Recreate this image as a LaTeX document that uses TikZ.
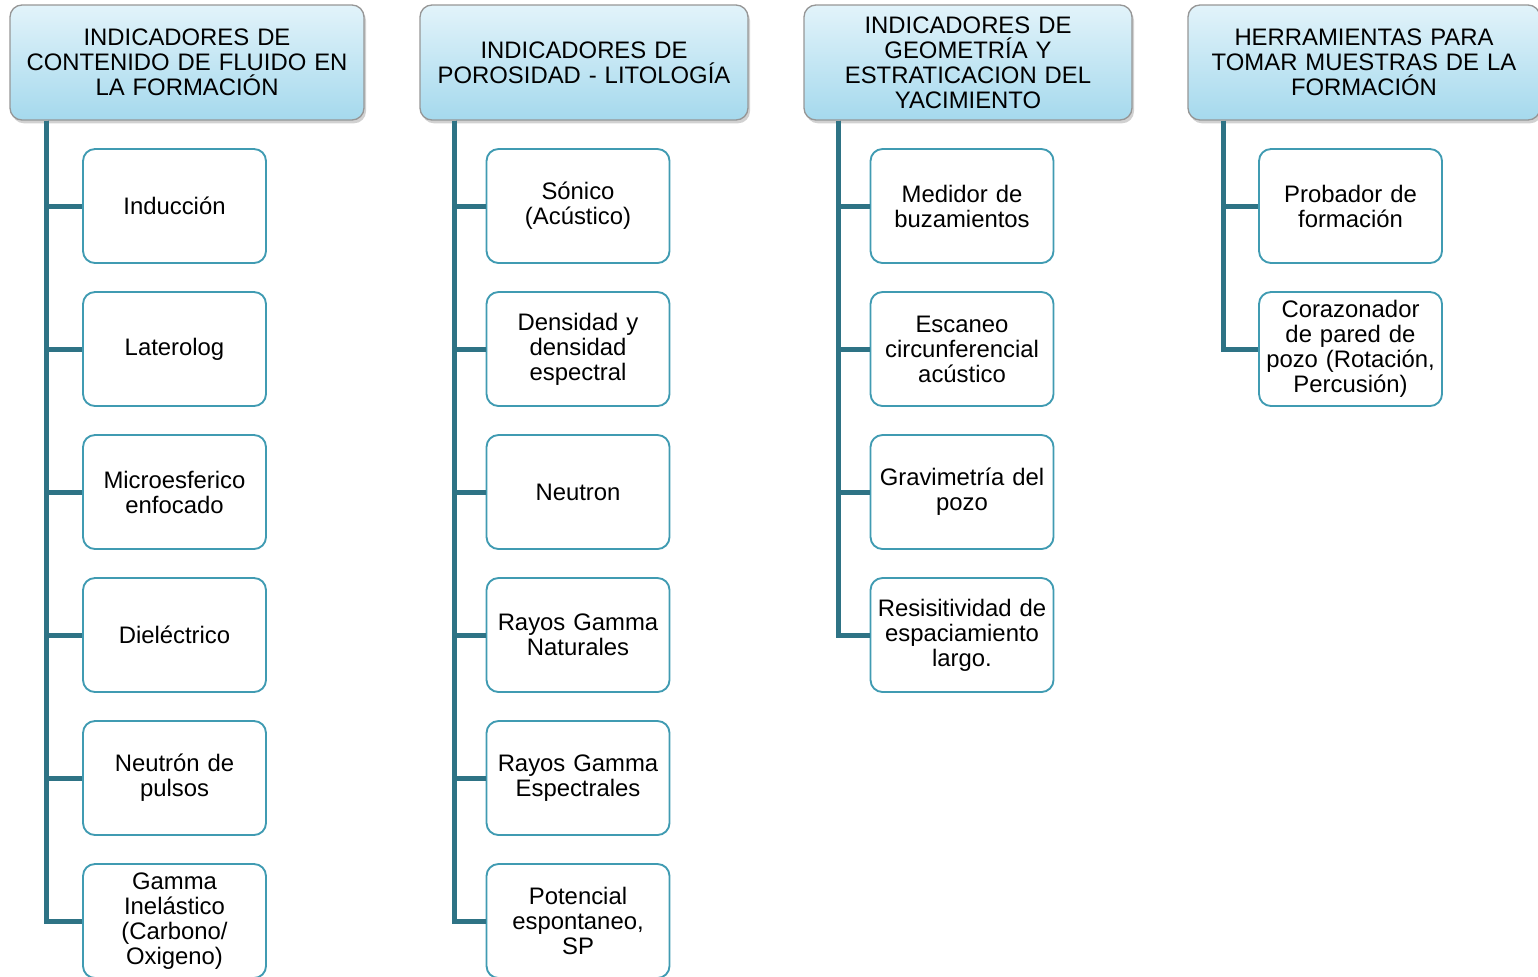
\documentclass[tikz,border=0pt]{standalone}
\usepackage{fontspec}
\setmainfont{Liberation Sans}
\usetikzlibrary{shadows}
\definecolor{hdrtop}{RGB}{226,243,250}
\definecolor{hdrbot}{RGB}{165,217,237}
\definecolor{hdrline}{RGB}{150,150,150}
\definecolor{boxline}{RGB}{64,155,178}
\definecolor{barline}{RGB}{46,115,133}
\tikzset{
  hdr/.style={draw=hdrline, line width=1pt, rounded corners=9pt,
    top color=hdrtop, bottom color=hdrbot, inner xsep=0pt,
    minimum height=86.25pt, align=center,
    drop shadow={shadow xshift=1.5pt, shadow yshift=-2.5pt, opacity=0.3, fill=black!60}},
  leaf/.style={draw=boxline, line width=1.4pt, fill=white, rounded corners=9pt,
    inner xsep=0pt, text width=137.25pt, minimum height=85.5pt, align=center},
  link/.style={draw=barline, line width=3.75pt}
}
\begin{document}
\begin{tikzpicture}[x=0.75pt, y=-0.75pt, font=\fontsize{17.9pt}{18.75pt}\selectfont]
\useasboundingbox (0,0) rectangle (1538,976);

% headers
\node[hdr, text width=265.5pt] (h1) at (187,62.5) {INDICADORES DE\\CONTENIDO DE FLUIDO EN\\LA FORMACIÓN};
\node[hdr, text width=246pt] (h2) at (584,62.5) {INDICADORES DE\\POROSIDAD - LITOLOGÍA};
\node[hdr, text width=246pt] (h3) at (968,62.5) {INDICADORES DE\\GEOMETRÍA Y\\ESTRATICACION DEL\\YACIMIENTO};
\node[hdr, text width=264pt] (h4) at (1364,62.5) {HERRAMIENTAS PARA\\TOMAR MUESTRAS DE LA\\FORMACIÓN};

\coordinate (b1) at ([xshift=27.75pt]h1.south west);
\coordinate (b2) at ([xshift=26.25pt]h2.south west);
\coordinate (b3) at ([xshift=26.25pt]h3.south west);
\coordinate (b4) at ([xshift=27pt]h4.south west);

% fluid content
\node[leaf] (c11) at (174.5,206) {Inducción};
\node[leaf] (c12) at (174.5,349) {Laterolog};
\node[leaf] (c13) at (174.5,492) {Microesferico\\enfocado};
\node[leaf] (c14) at (174.5,635) {Dieléctrico};
\node[leaf] (c15) at (174.5,778) {Neutrón de\\pulsos};
\node[leaf] (c16) at (174.5,921) {Gamma\\Inelástico\\(Carbono/\\Oxigeno)};

% porosity - lithology
\node[leaf] (c21) at (578,206) {Sónico\\(Acústico)};
\node[leaf] (c22) at (578,349) {Densidad y\\densidad\\espectral};
\node[leaf] (c23) at (578,492) {Neutron};
\node[leaf] (c24) at (578,635) {Rayos Gamma\\Naturales};
\node[leaf] (c25) at (578,778) {Rayos Gamma\\Espectrales};
\node[leaf] (c26) at (578,921) {Potencial\\espontaneo,\\SP};

% geometry
\node[leaf] (c31) at (962,206) {Medidor de\\buzamientos};
\node[leaf] (c32) at (962,349) {Escaneo\\circunferencial\\acústico};
\node[leaf] (c33) at (962,492) {Gravimetría del\\pozo};
\node[leaf] (c34) at (962,635) {Resisitividad de\\espaciamiento\\largo.};

% sampling
\node[leaf] (c41) at (1350.5,206) {Probador de\\formación};
\node[leaf] (c42) at (1350.5,349) {Corazonador\\de pared de\\pozo (Rotación,\\Percusión)};

\draw[link] (b1) |- (c11.west);
\draw[link] (b1) |- (c12.west);
\draw[link] (b1) |- (c13.west);
\draw[link] (b1) |- (c14.west);
\draw[link] (b1) |- (c15.west);
\draw[link] (b1) |- (c16.west);
\draw[link] (b2) |- (c21.west);
\draw[link] (b2) |- (c22.west);
\draw[link] (b2) |- (c23.west);
\draw[link] (b2) |- (c24.west);
\draw[link] (b2) |- (c25.west);
\draw[link] (b2) |- (c26.west);
\draw[link] (b3) |- (c31.west);
\draw[link] (b3) |- (c32.west);
\draw[link] (b3) |- (c33.west);
\draw[link] (b3) |- (c34.west);
\draw[link] (b4) |- (c41.west);
\draw[link] (b4) |- (c42.west);
\end{tikzpicture}
\end{document}
